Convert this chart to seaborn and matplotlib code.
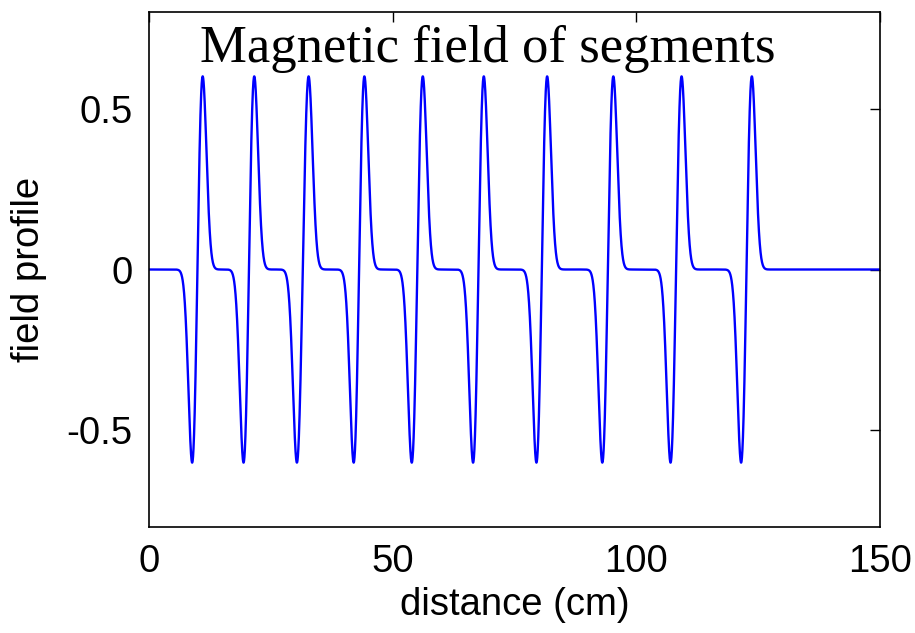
import numpy as np
import pandas as pd
import matplotlib.pyplot as plt
import seaborn as sns

# positions (cm) of the negative and positive lobes of each segment
neg_peaks = [8.97, 19.5, 30.4, 42.1, 54.0, 66.6, 79.6, 93.1, 107.1, 121.6]
pos_peaks = [10.9, 21.5, 32.7, 44.1, 56.1, 68.6, 81.6, 95.2, 109.2, 123.6]
amplitude = 0.6
lobe_width = 0.85  # cm, gaussian sigma of each lobe

x_ticks = [0, 50, 100, 150]
y_ticks = [-0.5, 0, 0.5]

# build the field profile from the lobes
x = np.linspace(0, 150, 8001)
field = np.zeros_like(x)
for xn, xp in zip(neg_peaks, pos_peaks):
    pulse = np.exp(-(x - xp)**2 / (2*lobe_width**2)) - np.exp(-(x - xn)**2 / (2*lobe_width**2))
    field += amplitude * pulse / np.abs(pulse).max()

df = pd.DataFrame({"distance": x, "field": field})

sns.set_style("white")
plt.rcParams['font.family'] = ['Liberation Sans', 'DejaVu Sans']
plt.rcParams['text.color'] = 'black'
plt.rcParams['axes.labelcolor'] = 'black'

fig = plt.figure(figsize=(9.15, 6.33), dpi=100)
ax = fig.add_axes([149/915, 106/633, 731/915, 515/633])

sns.lineplot(data=df, x="distance", y="field", color=(0, 0, 1), linewidth=1.7, ax=ax)

ax.set_xlim(0, 150)
ax.set_ylim(-0.8, 0.8)
ax.set_xticks(x_ticks)
ax.set_xticklabels([str(t) for t in x_ticks])
ax.set_yticks(y_ticks)
ax.set_yticklabels(["-0.5", "0", "0.5"])
ax.tick_params(direction='in', length=7, width=1.0, labelsize=27.5,
               top=True, right=True, pad=12, colors='black')
for s in ax.spines.values():
    s.set_color('black')
    s.set_linewidth(1.2)

ax.set_xlabel("distance (cm)", fontsize=27.5, labelpad=5, color='black')
ax.set_ylabel("field profile", fontsize=27.5, labelpad=14, color='black')

ax.text(0.463, 0.903, "Magnetic field of segments", transform=ax.transAxes,
        ha='center', va='baseline', fontsize=38, color='black',
        family=['Liberation Serif', 'DejaVu Serif'])

plt.savefig("out.png", dpi=100)
